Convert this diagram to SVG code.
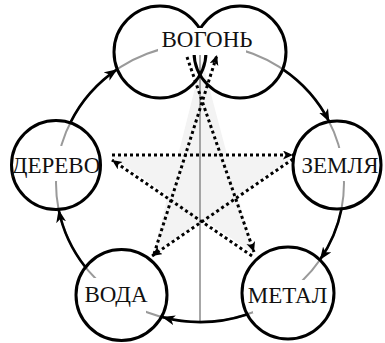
<svg xmlns="http://www.w3.org/2000/svg" width="385" height="343" viewBox="0 0 385 343">
<style>
.ring{fill:none;stroke:#9a9a9a;stroke-width:2}
.arc{fill:none;stroke:#000;stroke-width:2.6;marker-end:url(#ah)}
.dot{fill:none;stroke:#000;stroke-width:3;stroke-dasharray:3 3;marker-end:url(#sh)}
.node{fill:none;stroke:#000;stroke-width:3}
.box{fill:#fff;stroke:none}
.lbl{font-family:"Liberation Serif","DejaVu Serif",serif;font-size:23px;fill:#111;text-anchor:middle}
</style>
<defs>
<marker id="ah" markerWidth="14" markerHeight="10" refX="13" refY="5" orient="auto" markerUnits="userSpaceOnUse"><path d="M0,0 L13,5 L0,10 L3.5,5 z" fill="#000"/></marker>
<marker id="sh" markerWidth="12" markerHeight="10" refX="10" refY="4.5" orient="auto" markerUnits="userSpaceOnUse"><path d="M0,0 L10,4.5 L0,9 L2.5,4.5 z" fill="#000"/></marker>
</defs>
<rect width="385" height="343" fill="#fff"/>
<g id="connectors">
<polygon points="202,60 253,253 112,157 293,157 153,255" fill="#f3f3f3" fill-rule="nonzero"/>
<ellipse class="ring" cx="200" cy="183" rx="144" ry="139"/>
<line x1="200" y1="30" x2="200" y2="322" stroke="#8a8a8a" stroke-width="1.5"/>
<path class="arc" d="M282.6,69.2 A144,139 0 0 1 329.4,122.1"/>
<path class="arc" d="M341.5,209 A144,139 0 0 1 319.8,260.1"/>
<path class="arc" d="M246.9,314.5 A144,139 0 0 1 162,317"/>
<path class="arc" d="M85.3,267 A144,139 0 0 1 58.6,209.5"/>
<path class="arc" d="M70.3,122.8 A144,139 0 0 1 117.4,69.2"/>
<path class="dot" d="M187,57 L254,252"/>
<path class="dot" d="M252,256 L112,160"/>
<path class="dot" d="M112,155 L293,155"/>
<path class="dot" d="M293,159 L152,256"/>
<path class="dot" d="M154,254 L217,55"/>
</g>
<g id="vohon">
<circle class="node" cx="160" cy="52" r="46"/>
<circle class="node" cx="240" cy="52" r="46"/>
<rect class="box" x="158" y="28" width="88" height="27"/>
<text class="lbl" x="207" y="47">ВОГОНЬ</text>
</g>
<g id="derevo">
<rect class="box" x="8" y="146" width="96" height="35"/>
<circle class="node" cx="56" cy="165" r="44.5"/>
<text class="lbl" x="56" y="173">ДЕРЕВО</text>
</g>
<g id="zemlia">
<rect class="box" x="296" y="148" width="88" height="33"/>
<circle class="node" cx="337" cy="165" r="44"/>
<text class="lbl" x="340" y="173">ЗЕМЛЯ</text>
</g>
<g id="voda">
<rect class="box" x="80" y="278" width="66" height="35"/>
<circle class="node" cx="121.5" cy="295" r="45.5"/>
<text class="lbl" x="116" y="302">ВОДА</text>
</g>
<g id="metal">
<rect class="box" x="253" y="280" width="80" height="33"/>
<circle class="node" cx="288" cy="293" r="46"/>
<text class="lbl" x="287.5" y="303">МЕТАЛ</text>
</g>
</svg>
